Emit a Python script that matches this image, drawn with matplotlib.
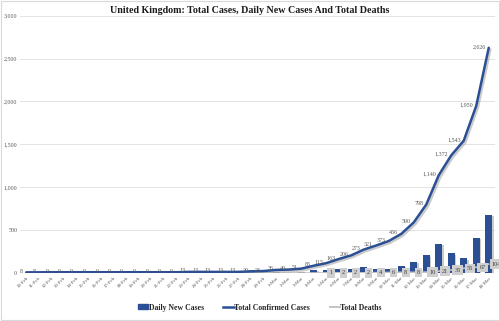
import matplotlib
matplotlib.use("Agg")
import matplotlib.pyplot as plt
import matplotlib.patheffects as pe
from matplotlib.patches import Rectangle
from matplotlib.lines import Line2D

dates = ["10-Feb", "11-Feb", "12-Feb", "13-Feb", "14-Feb", "15-Feb", "16-Feb", "17-Feb",
         "18-Feb", "19-Feb", "20-Feb", "21-Feb", "22-Feb", "23-Feb", "24-Feb", "25-Feb",
         "26-Feb", "27-Feb", "28-Feb", "29-Feb", "1-Mar", "2-Mar", "3-Mar", "4-Mar",
         "5-Mar", "6-Mar", "7-Mar", "8-Mar", "9-Mar", "10-Mar", "11-Mar", "12-Mar",
         "13-Mar", "14-Mar", "15-Mar", "16-Mar", "17-Mar", "18-Mar"]
total_cases = [8, 8, 9, 9, 9, 9, 9, 9, 9, 9, 9, 9, 9, 13, 13, 13, 13, 13, 20, 23,
               36, 40, 51, 85, 115, 163, 206, 273, 321, 373, 456, 590, 798, 1140,
               1372, 1543, 1950, 2626]
daily_new = [0, 0, 1, 0, 0, 0, 0, 0, 0, 0, 0, 0, 0, 4, 0, 0, 0, 0, 7, 3,
             13, 4, 11, 34, 30, 48, 43, 67, 48, 52, 83, 134, 208, 342,
             232, 171, 407, 676]
total_deaths = [0, 0, 0, 0, 0, 0, 0, 0, 0, 0, 0, 0, 0, 0, 0, 0, 0, 0, 0, 0,
                0, 0, 0, 0, 1, 2, 2, 2, 4, 6, 8, 8, 10, 21, 35, 55, 67, 104]
yticks = [0, 500, 1000, 1500, 2000, 2500, 3000]

blue = "#2b4f94"
gray_line = "#c4c4c4"
serif = ["Liberation Serif", "DejaVu Serif"]

fig = plt.figure(figsize=(5.0, 3.21), dpi=100)
fig.patches.append(Rectangle((0.001, 0.004), 0.997, 0.994, transform=fig.transFigure,
                             fill=False, edgecolor="#d9d9d9", linewidth=0.8))
ax = fig.add_axes([0.04, 0.1495, 0.95, 0.8015])
x = list(range(len(dates)))

shadow = [pe.SimpleLineShadow(offset=(1.2, -1.2), shadow_color="#999999", alpha=0.5), pe.Normal()]

ax.bar(x, daily_new, width=0.56, color=blue, zorder=2,
       path_effects=[pe.SimplePatchShadow(offset=(1, -1), shadow_rgbFace="#999999", alpha=0.5), pe.Normal()])
ax.plot(x, total_deaths, color=gray_line, linewidth=1.2, zorder=3)
ax.plot(x, total_cases, color=blue, linewidth=1.8, zorder=4, path_effects=shadow,
        solid_capstyle="round")

for i, v in enumerate(total_cases):
    ax.annotate(f"{v:,}", (i, v), xytext=(-3, 1), textcoords="offset pixels",
                ha="right", va="center", fontsize=4.3, color="#595959",
                family=serif, zorder=6)
for i, v in enumerate(total_deaths):
    if v > 0:
        ax.annotate(f"{v}", (i, v), xytext=(3, 0), textcoords="offset pixels",
                    ha="left", va="center", fontsize=4.6, color="#404040",
                    family=serif, zorder=7,
                    bbox=dict(boxstyle="square,pad=0.35", facecolor="#cfcfcf",
                              edgecolor="none"))

ax.set_xlim(-0.5, len(dates) - 0.5)
ax.set_ylim(0, 3000)
ax.set_yticks(yticks)
ax.set_yticklabels([f"{t:,}" for t in yticks], fontsize=4.3, color="#595959", family=serif)
ax.set_xticks(x)
ax.set_xticklabels(dates, rotation=45, ha="right", rotation_mode="anchor",
                   fontsize=3.6, color="#595959", family=serif)
ax.tick_params(axis="both", length=0, pad=2)
ax.grid(axis="y", color="#e3e3e3", linewidth=0.7, zorder=0)
ax.set_axisbelow(True)
for s in ax.spines.values():
    s.set_visible(False)

fig.text(0.5, 0.967, "United Kingdom: Total Cases, Daily New Cases And Total Deaths",
         ha="center", va="center", fontsize=7.2, fontweight="bold", family=serif,
         color="#1a1a1a")

handles = [Rectangle((0, 0), 1, 1, color=blue),
           Line2D([], [], color=blue, linewidth=1.8),
           Line2D([], [], color=gray_line, linewidth=1.4)]
leg = fig.legend(handles, ["Daily New Cases", "Total Confirmed Cases", "Total Deaths"],
                 loc="center", bbox_to_anchor=(0.52, 0.042), ncol=3, frameon=False,
                 prop={"family": serif, "size": 5.6, "weight": "bold"},
                 handlelength=1.3, handleheight=0.6, handletextpad=0.1, columnspacing=2.5)
for t in leg.get_texts():
    t.set_color("#262626")

fig.savefig("out.png", dpi=100)
